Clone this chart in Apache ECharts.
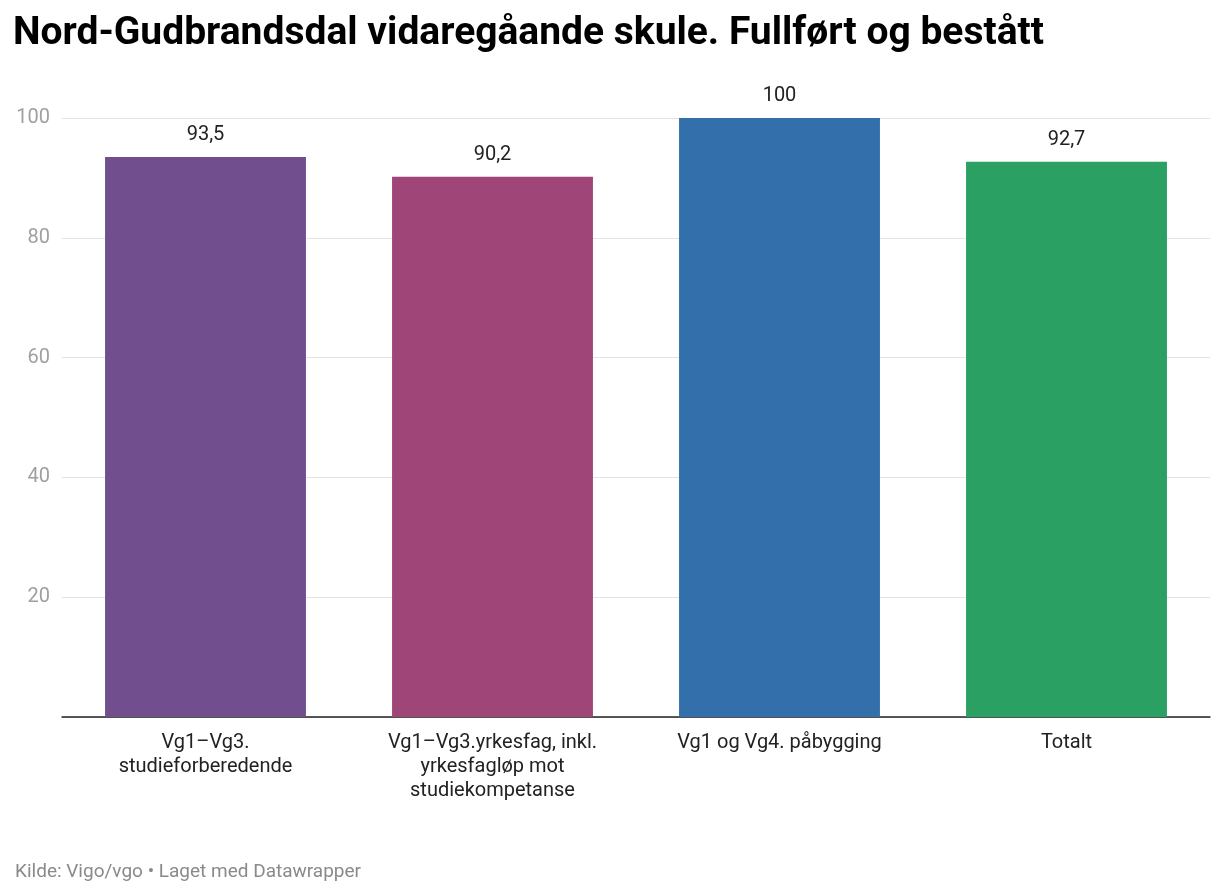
<!DOCTYPE html>
<html>
<head>
<meta charset="utf-8">
<script src="https://cdn.jsdelivr.net/npm/echarts@6/dist/echarts.min.js"></script>
<style>html,body{margin:0;padding:0;background:#fff}#main{width:1220px;height:894px}</style>
</head>
<body>
<div id="main"></div>
<script>
var categories = ['Vg1–Vg3.\nstudieforberedende', 'Vg1–Vg3.yrkesfag, inkl.\nyrkesfagløp mot\nstudiekompetanse', 'Vg1 og Vg4. påbygging', 'Totalt'];
var values = [93.5, 90.2, 100, 92.7];
var barColors = ['#714f8e', '#a04577', '#336fab', '#2aa062'];

var myChart = echarts.init(document.getElementById('main'));
var option = {
    animation: false,
    textStyle: {fontFamily: 'Roboto'},
    title: [{
        text: 'Nord-Gudbrandsdal vidaregåande skule. Fullført og bestått',
        left: 8, top: 10,
        textStyle: {fontSize: 39, fontWeight: 'bold', color: '#000', fontFamily: 'Roboto'}
    }, {
        text: 'Kilde: Vigo/vgo • Laget med Datawrapper',
        left: 10, top: 858,
        textStyle: {fontSize: 19, fontWeight: 'normal', color: '#8a8a8a', fontFamily: 'Roboto'}
    }],
    grid: {left: 62, right: 10, top: 118, bottom: 177},
    xAxis: {
        type: 'category',
        data: categories,
        axisLine: {lineStyle: {color: '#222', width: 1.5}},
        axisTick: {show: false},
        axisLabel: {fontSize: 20, color: '#222', lineHeight: 24, margin: 14, interval: 0}
    },
    yAxis: {
        type: 'value', min: 0, max: 100, interval: 20,
        axisLine: {show: false},
        axisTick: {show: false},
        splitLine: {lineStyle: {color: '#e3e3e3'}},
        axisLabel: {
            fontSize: 20, color: '#a0a0a0', margin: 12,
            formatter: function (v) { return v === 0 ? '' : v; }
        }
    },
    series: [{
        type: 'bar',
        barWidth: '70%',
        data: values.map(function (v, i) { return {value: v, itemStyle: {color: barColors[i]}}; }),
        label: {
            show: true, position: 'top', distance: 12,
            fontSize: 20, color: '#222',
            formatter: function (p) { return String(p.value).replace('.', ','); }
        }
    }]
};
myChart.setOption(option);
</script>
</body>
</html>
